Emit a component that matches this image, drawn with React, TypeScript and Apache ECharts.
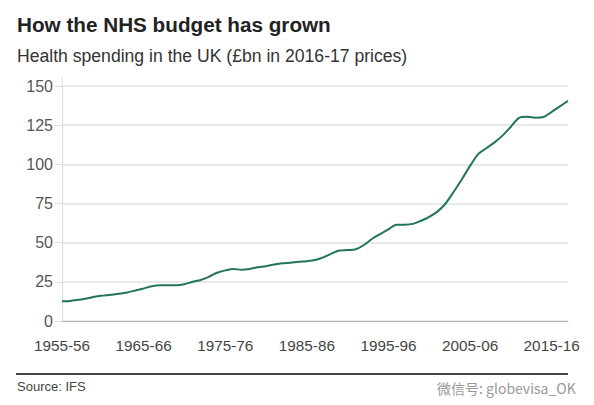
import React, { useEffect, useRef } from "react";
import * as echarts from "echarts";

const startYears: number[] = Array.from({ length: 63 }, (_, i) => 1955 + i);
const categories: string[] = startYears.map(
  (y) => `${y}-${String((y + 1) % 100).padStart(2, "0")}`
);

const spending: number[] = [
  12.6, 12.8, 13.5, 14.3, 15.5, 16.2, 16.8, 17.4, 18.2, 19.5,
  20.8, 22.2, 22.8, 22.8, 22.8, 23.5, 25.0, 26.2, 28.2, 30.8,
  32.3, 33.2, 32.7, 33.2, 34.3, 35.0, 36.0, 36.8, 37.2, 37.8,
  38.2, 38.9, 40.6, 43.0, 45.0, 45.3, 45.8, 48.5, 52.5, 55.5,
  58.5, 61.5, 61.5, 62.0, 64.0, 66.5, 69.8, 75.0, 82.5, 90.5,
  99.0, 106.5, 110.3, 114.0, 118.5, 124.0, 129.6, 130.4, 129.8, 130.2,
  133.5, 137.0, 140.5,
];

const yTicks: number[] = [0, 25, 50, 75, 100, 125, 150];

const FONT = "'Liberation Sans', Arial, Helvetica, sans-serif";

export default function App() {
  const ref = useRef<HTMLDivElement>(null);
  useEffect(() => {
    if (!ref.current) return;
    const chart = echarts.init(ref.current, undefined, { renderer: "svg" });
    chart.setOption({
      animation: false,
      backgroundColor: "#ffffff",
      textStyle: { fontFamily: FONT },
      grid: { left: 62, right: 26, top: 86, bottom: 84, containLabel: false },
      xAxis: {
        type: "category",
        data: categories,
        boundaryGap: false,
        axisLine: { show: true, lineStyle: { color: "#b5b5b5", width: 1 } },
        axisTick: { show: false },
        axisLabel: {
          interval: (index: number) => index % 10 === 0,
          color: "#444444",
          fontSize: 15.3,
          fontFamily: FONT,
          margin: 17,
          hideOverlap: false,
        },
        splitLine: { show: false },
      },
      yAxis: {
        type: "value",
        min: yTicks[0],
        max: yTicks[yTicks.length - 1],
        interval: 25,
        axisLine: { show: true, lineStyle: { color: "#dddddd", width: 1 } },
        axisTick: { show: true, length: 7, lineStyle: { color: "#dddddd", width: 1 } },
        axisLabel: {
          color: "#555555",
          fontSize: 16,
          fontFamily: FONT,
          margin: 9,
        },
        splitLine: { show: true, lineStyle: { color: "#e0e0e0", width: 1.5 } },
      },
      series: [
        {
          type: "line",
          data: spending,
          symbol: "none",
          smooth: 0.3,
          lineStyle: { color: "#22745a", width: 2 },
          z: 5,
        },
      ],
      graphic: [
        {
          type: "line",
          shape: { x1: 62, y1: 77, x2: 62, y2: 86 },
          style: { stroke: "#dddddd", lineWidth: 1 },
        },
        {
          type: "text",
          left: 17,
          top: 14,
          style: {
            text: "How the NHS budget has grown",
            fontSize: 20.7,
            fontWeight: "bold",
            fill: "#222222",
            fontFamily: FONT,
          },
        },
        {
          type: "text",
          left: 17,
          top: 47,
          style: {
            text: "Health spending in the UK (£bn in 2016-17 prices)",
            fontSize: 17.6,
            fill: "#333333",
            fontFamily: FONT,
          },
        },
        {
          type: "line",
          shape: { x1: 16, y1: 374, x2: 568, y2: 374 },
          style: { stroke: "#444444", lineWidth: 2 },
        },
        {
          type: "text",
          left: 17,
          top: 380,
          style: {
            text: "Source: IFS",
            fontSize: 13,
            fill: "#444444",
            fontFamily: FONT,
          },
        },
        {
          type: "text",
          left: 437,
          top: 381,
          style: {
            text: "微信号: globevisa_OK",
            fontSize: 14,
            fill: "#999999",
            fontFamily: "'Noto Sans CJK SC', " + FONT,
          },
        },
      ],
    });
    return () => chart.dispose();
  }, []);
  return (
    <div
      ref={ref}
      style={{ position: "absolute", left: 0, top: 0, width: 594, height: 405 }}
    />
  );
}
